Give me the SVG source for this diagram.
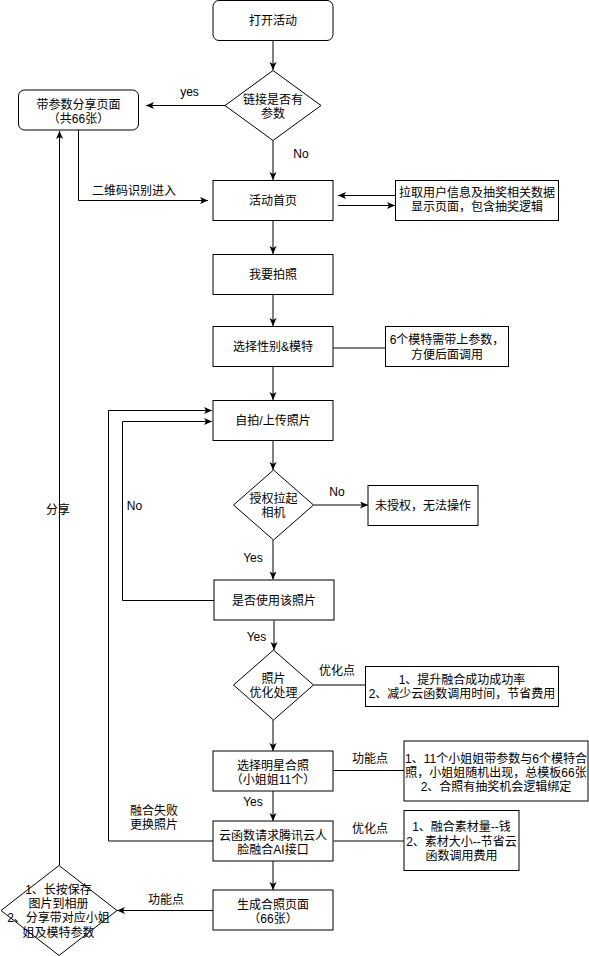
<svg xmlns="http://www.w3.org/2000/svg" width="589" height="956" viewBox="0 0 589 956">
<defs>
<marker id="arr" markerUnits="userSpaceOnUse" markerWidth="10" markerHeight="10" refX="8" refY="3.5" orient="auto">
<path d="M0,0 L8,3.5 L0,7 L2,3.5 Z" fill="#000"/>
</marker>
<style>
.n{fill:#fff;stroke:#000;stroke-width:1}
.t{font-family:"Liberation Sans","Noto Sans CJK SC",sans-serif;font-size:12px;fill:#000;text-anchor:middle;text-spacing-trim:space-all}
.e{fill:none;stroke:#000;stroke-width:1}
.a{marker-end:url(#arr)}
</style>
</defs>
<rect x="0" y="0" width="589" height="956" fill="#fff"/>
<g id="edges">
<path class="e a" d="M273,40.5 V70"/>
<path class="e a" d="M225,105.5 H146"/>
<path class="e a" d="M273,140.5 V180"/>
<path class="e a" d="M395.5,195.5 H338"/>
<path class="e a" d="M338,205.5 H395"/>
<path class="e a" d="M78.5,130 V200.5 H208"/>
<path class="e a" d="M273,220.5 V254"/>
<path class="e a" d="M273,294.5 V326"/>
<path class="e" d="M333,348 H385.5"/>
<path class="e a" d="M273,366.5 V400"/>
<path class="e a" d="M273,440.5 V470"/>
<path class="e a" d="M313.5,505 H368"/>
<path class="e a" d="M273,540 V579.5"/>
<path class="e a" d="M214,600.5 H122.5 V421.5 H212"/>
<path class="e a" d="M274,620.5 V650"/>
<path class="e" d="M313.5,685 H365.5"/>
<path class="e a" d="M273,720 V751"/>
<path class="e" d="M333.5,770.5 H404"/>
<path class="e a" d="M273,791 V821"/>
<path class="e" d="M333.5,841 H404"/>
<path class="e a" d="M213,841 H108.5 V410.5 H212"/>
<path class="e a" d="M273,861 V890"/>
<path class="e a" d="M213,910.5 H117"/>
<path class="e a" d="M59.5,865 V131"/>
</g>
<g id="labels">
<text class="t" x="189.5" y="96">yes</text>
<text class="t" x="301" y="158">No</text>
<text class="t" x="134" y="195">二维码识别进入</text>
<text class="t" x="337" y="496">No</text>
<text class="t" x="134.5" y="510">No</text>
<text class="t" x="253" y="562">Yes</text>
<text class="t" x="256.5" y="640.5">Yes</text>
<text class="t" x="337" y="675">优化点</text>
<text class="t" x="370" y="762.5">功能点</text>
<text class="t" x="253" y="806">Yes</text>
<text class="t" x="154" y="814.5">融合失败</text>
<text class="t" x="154" y="828.5">更换照片</text>
<text class="t" x="370" y="833">优化点</text>
<text class="t" x="166" y="903.5">功能点</text>
<text class="t" x="58" y="513.5">分享</text>
</g>
<g id="n1"><rect class="n" x="213" y="0.5" width="120" height="40" rx="6"/><text class="t" x="273" y="24.5">打开活动</text></g>
<g id="n2"><polygon class="n" points="273,70.5 321,105.5 273,140.5 225,105.5"/><text class="t" x="273" y="103.5">链接是否有</text><text class="t" x="273" y="117.5">参数</text></g>
<g id="n3"><rect class="n" x="18.5" y="90" width="120" height="40" rx="6"/><text class="t" x="78.5" y="108.5">带参数分享页面</text><text class="t" x="78.5" y="122.5">（共66张）</text></g>
<g id="n4"><rect class="n" x="213" y="180.5" width="120" height="40"/><text class="t" x="273" y="205">活动首页</text></g>
<g id="n5"><rect class="n" x="395.5" y="180.5" width="163" height="40"/><text class="t" x="477" y="197">拉取用户信息及抽奖相关数据</text><text class="t" x="477" y="211">显示页面，包含抽奖逻辑</text></g>
<g id="n6"><rect class="n" x="213" y="254.5" width="120" height="40"/><text class="t" x="273" y="278.5">我要拍照</text></g>
<g id="n7"><rect class="n" x="213" y="326.5" width="120" height="40"/><text class="t" x="273" y="351">选择性别&amp;模特</text></g>
<g id="n8"><rect class="n" x="385.5" y="326.5" width="123" height="40"/><text class="t" x="447" y="344">6个模特需带上参数，</text><text class="t" x="447" y="358.5">方便后面调用</text></g>
<g id="n9"><rect class="n" x="213" y="400.5" width="120" height="40"/><text class="t" x="273" y="425">自拍/上传照片</text></g>
<g id="n10"><polygon class="n" points="273.5,470 313.5,505 273.5,540 233.5,505"/><text class="t" x="273.5" y="502.5">授权拉起</text><text class="t" x="273.5" y="517">相机</text></g>
<g id="n11"><rect class="n" x="368" y="485.5" width="110" height="40"/><text class="t" x="423" y="510">未授权，无法操作</text></g>
<g id="n12"><rect class="n" x="214" y="580" width="120" height="40"/><text class="t" x="274" y="604.5">是否使用该照片</text></g>
<g id="n13"><polygon class="n" points="273.5,650 313.5,685 273.5,720 233.5,685"/><text class="t" x="273.5" y="683">照片</text><text class="t" x="273.5" y="696.5">优化处理</text></g>
<g id="n14"><rect class="n" x="365.5" y="666.5" width="193" height="40"/><text class="t" x="462" y="684">1、提升融合成功成功率</text><text class="t" x="462" y="697.5">2、减少云函数调用时间，节省费用</text></g>
<g id="n15"><rect class="n" x="213" y="751" width="120" height="40"/><text class="t" x="273" y="769.5">选择明星合照</text><text class="t" x="273" y="783.5">（小姐姐11个）</text></g>
<g id="n16"><rect class="n" x="404" y="741" width="184" height="60"/><text class="t" x="496" y="763">1、11个小姐姐带参数与6个模特合</text><text class="t" x="496" y="777">照，小姐姐随机出现，总模板66张</text><text class="t" x="496" y="791">2、合照有抽奖机会逻辑绑定</text></g>
<g id="n17"><rect class="n" x="213" y="821" width="120" height="40"/><text class="t" x="273" y="839.5">云函数请求腾讯云人</text><text class="t" x="273" y="853.5">脸融合AI接口</text></g>
<g id="n18"><rect class="n" x="404" y="810.5" width="115" height="60"/><text class="t" x="461.5" y="831">1、融合素材量--钱</text><text class="t" x="461.5" y="845.5">2、素材大小--节省云</text><text class="t" x="461.5" y="859.5">函数调用费用</text></g>
<g id="n19"><rect class="n" x="213" y="890" width="120" height="40"/><text class="t" x="273" y="908.5">生成合照页面</text><text class="t" x="273" y="922.5">（66张）</text></g>
<g id="n20"><polygon class="n" points="59,865.5 117,910.5 59,955.5 1,910.5"/><text class="t" x="58.5" y="893.5">1、长按保存</text><text class="t" x="58.5" y="908">图片到相册</text><text class="t" x="58.5" y="922">2、分享带对应小姐</text><text class="t" x="58.5" y="936.5">姐及模特参数</text></g>
</svg>
